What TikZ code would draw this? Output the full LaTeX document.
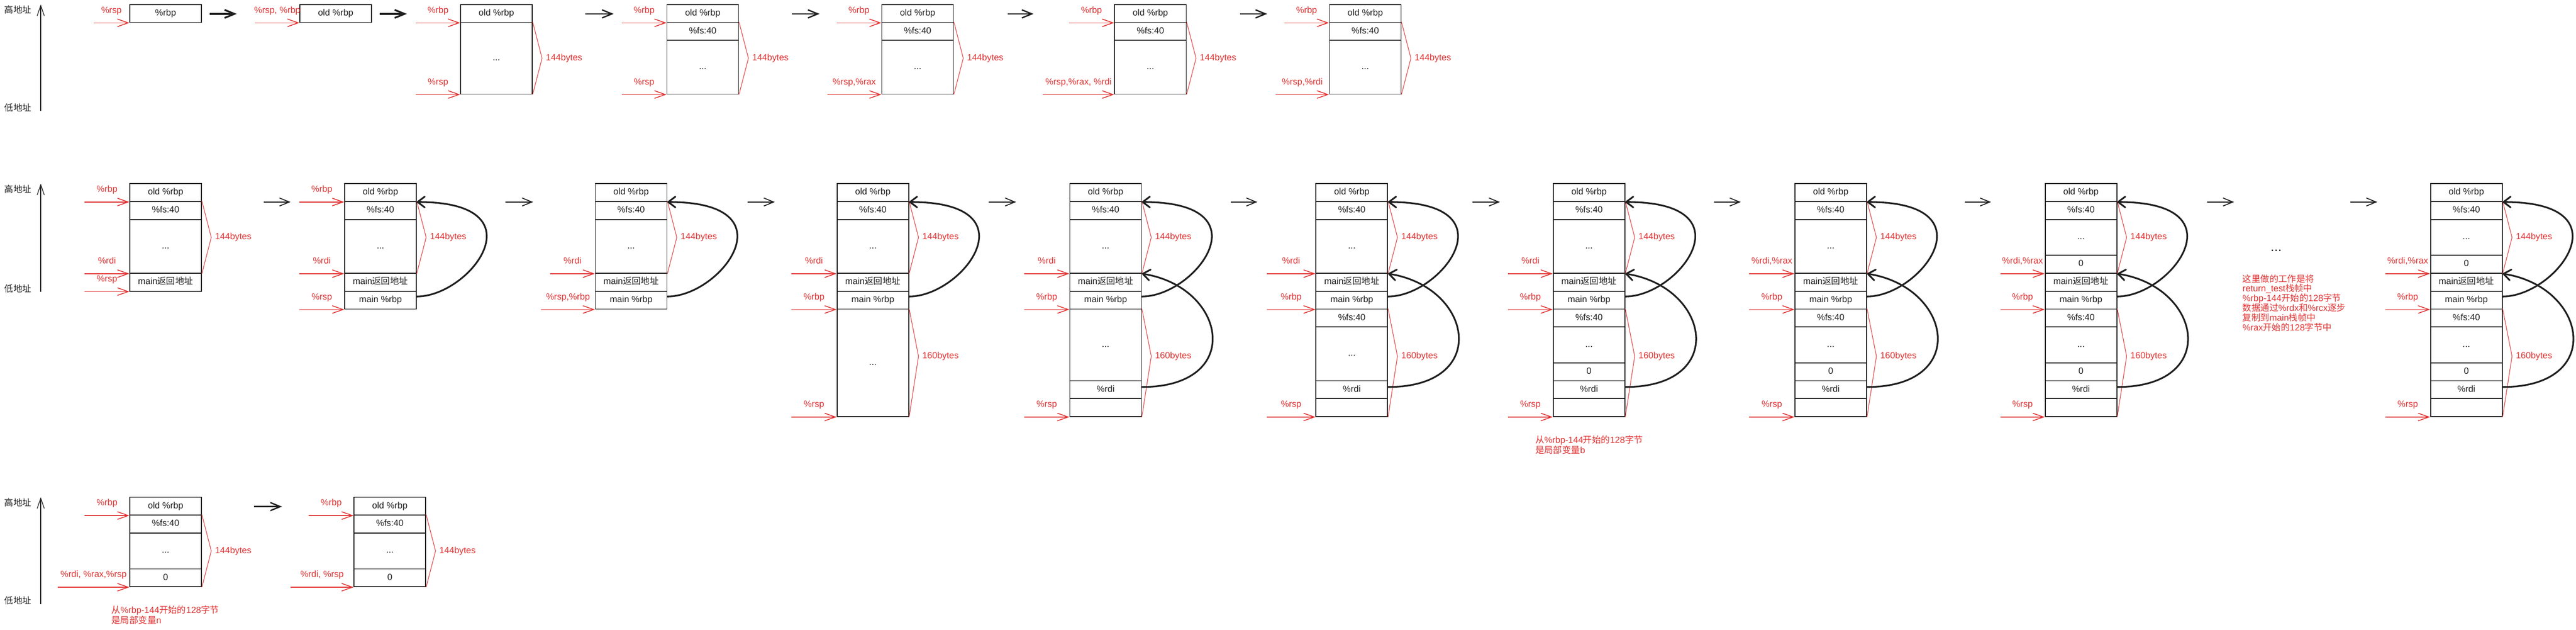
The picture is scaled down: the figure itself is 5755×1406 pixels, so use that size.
\documentclass[tikz,border=0pt]{standalone}
\usepackage{fontspec}
\setmainfont{Liberation Sans}
\newfontfamily\cjk{Noto Sans CJK SC}
\usetikzlibrary{arrows.meta,calc}
\definecolor{ink}{HTML}{1E1E1E}
\definecolor{pen}{HTML}{E03131}
\newcommand\zh[1]{{\cjk #1}}
\newcommand\skipcell{...}
% one stack frame: name, left edge, cells as top/bottom/text
\newcommand\stackcells[3]{%
  \foreach \ya/\yb/\txt [count=\i] in {#3}{%
    \pgfmathsetmacro\cellh{\yb-\ya}
    \node[cell, minimum height=\cellh pt] (#1-\i) at ({#2+80},{(\ya+\yb)/2}) {\txt};
  }}

\begin{document}
\begin{tikzpicture}[x=1pt, y=-1pt,
every node/.style={inner sep=0pt, font=\fontsize{20}{23}\selectfont},
cell/.style={draw=ink, line width=2pt, minimum width=160pt, text=ink, text height=14pt, text depth=4pt},
reg/.style={anchor=base, yshift=22pt, text=pen},
sizelbl/.style={anchor=west, xshift=8pt, text=pen},
note/.style={anchor=west, align=left, text=pen},
addr/.style={text=ink},
ptr/.style={draw=pen, line width=1.8pt, -{Straight Barb[length=24pt,width=17pt]}},
brace/.style={draw=pen, line width=1.2pt},
nextarr/.style={draw=ink, -{Straight Barb[length=22pt,width=18pt]}},
axis/.style={draw=ink, line width=1.5pt, -{Straight Barb[length=23pt,width=16pt]}},
loopback/.style={draw=ink, line width=3.8pt, line cap=round, -{Straight Barb[length=16pt,width=24pt,round]}}
]
\useasboundingbox (0,0) rectangle (5755,1406);

% address axes
\foreach \n/\ya/\yb in {1/10/248, 2/410/652, 3/1110/1349}{
  \node[addr] (hi\n) at (40,\ya+12) {\zh{高地址}};
  \node[addr] (lo\n) at (40,\yb-8) {\zh{低地址}};
  \coordinate (ax\n-a) at (91,\yb);
  \coordinate (ax\n-b) at (91,\ya);
  \draw[axis] (ax\n-a) -- (ax\n-b);
}

% first row
\stackcells{f1}{290}{10/50/\%rbp}
\stackcells{f2}{670}{10/50/old \%rbp}
\stackcells{f3}{1029}{10/50/old \%rbp, 50/210/\skipcell}
\stackcells{f4}{1490}{10/50/old \%rbp, 50/90/\%fs:40, 90/210/\skipcell}
\stackcells{f5}{1970}{10/50/old \%rbp, 50/90/\%fs:40, 90/210/\skipcell}
\stackcells{f6}{2490}{10/50/old \%rbp, 50/90/\%fs:40, 90/210/\skipcell}
\stackcells{f7}{2970}{10/50/old \%rbp, 50/90/\%fs:40, 90/210/\skipcell}

% second row
\stackcells{g1}{290}{410/450/old \%rbp, 450/490/\%fs:40, 490/610/\skipcell, 610/650/main\zh{返回地址}}
\stackcells{g2}{770}{410/450/old \%rbp, 450/490/\%fs:40, 490/610/\skipcell, 610/650/main\zh{返回地址}, 650/690/main \%rbp}
\stackcells{g3}{1330}{410/450/old \%rbp, 450/490/\%fs:40, 490/610/\skipcell, 610/650/main\zh{返回地址}, 650/690/main \%rbp}
\stackcells{g4}{1870}{410/450/old \%rbp, 450/490/\%fs:40, 490/610/\skipcell, 610/650/main\zh{返回地址}, 650/690/main \%rbp, 690/930/\skipcell}
\stackcells{g5}{2390}{410/450/old \%rbp, 450/490/\%fs:40, 490/610/\skipcell, 610/650/main\zh{返回地址}, 650/690/main \%rbp, 690/850/\skipcell, 850/890/\%rdi, 890/930/{}}
\stackcells{g6}{2940}{410/450/old \%rbp, 450/490/\%fs:40, 490/610/\skipcell, 610/650/main\zh{返回地址}, 650/690/main \%rbp, 690/730/\%fs:40, 730/850/\skipcell, 850/890/\%rdi, 890/930/{}}
\stackcells{g7}{3470}{410/450/old \%rbp, 450/490/\%fs:40, 490/610/\skipcell, 610/650/main\zh{返回地址}, 650/690/main \%rbp, 690/730/\%fs:40, 730/810/\skipcell, 810/850/0, 850/890/\%rdi, 890/930/{}}
\stackcells{g8}{4010}{410/450/old \%rbp, 450/490/\%fs:40, 490/610/\skipcell, 610/650/main\zh{返回地址}, 650/690/main \%rbp, 690/730/\%fs:40, 730/810/\skipcell, 810/850/0, 850/890/\%rdi, 890/930/{}}
\stackcells{g9}{4569}{410/450/old \%rbp, 450/490/\%fs:40, 490/570/\skipcell, 570/610/0, 610/650/main\zh{返回地址}, 650/690/main \%rbp, 690/730/\%fs:40, 730/810/\skipcell, 810/850/0, 850/890/\%rdi, 890/930/{}}
\stackcells{g10}{5430}{410/450/old \%rbp, 450/490/\%fs:40, 490/570/\skipcell, 570/610/0, 610/650/main\zh{返回地址}, 650/690/main \%rbp, 690/730/\%fs:40, 730/810/\skipcell, 810/850/0, 850/890/\%rdi, 890/930/{}}

% third row
\stackcells{h1}{290}{1110/1150/old \%rbp, 1150/1190/\%fs:40, 1190/1270/\skipcell, 1270/1310/0}
\stackcells{h2}{791}{1110/1150/old \%rbp, 1150/1190/\%fs:40, 1190/1270/\skipcell, 1270/1310/0}

% register pointers
\foreach \fr/\cl/\len/\lbl in {
    f1/1/80/\%rsp, f2/1/99/{\%rsp, \%rbp},
    f3/1/99/\%rbp, f3/2/99/\%rsp, f4/1/100/\%rbp, f4/3/100/\%rsp,
    f5/1/100/\%rbp, f5/3/121/{\%rsp,\%rax}, f6/1/101/\%rbp, f6/3/159/{\%rsp,\%rax, \%rdi},
    f7/1/100/\%rbp, f7/3/119/{\%rsp,\%rdi},
    g1/1/100/\%rbp, g1/3/100/\%rdi, g1/4/100/\%rsp,
    g2/1/100/\%rbp, g2/3/100/\%rdi, g2/5/100/\%rsp,
    g3/3/100/\%rdi, g3/5/120/{\%rsp,\%rbp},
    g4/3/101/\%rdi, g4/5/101/\%rbp, g4/6/101/\%rsp,
    g5/3/101/\%rdi, g5/5/101/\%rbp, g5/8/101/\%rsp,
    g6/3/109/\%rdi, g6/5/109/\%rbp, g6/9/109/\%rsp,
    g7/3/100/\%rdi, g7/5/100/\%rbp, g7/10/100/\%rsp,
    g8/3/101/{\%rdi,\%rax}, g8/5/101/\%rbp, g8/10/101/\%rsp,
    g9/4/99/{\%rdi,\%rax}, g9/6/99/\%rbp, g9/11/99/\%rsp,
    g10/4/100/{\%rdi,\%rax}, g10/6/100/\%rbp, g10/11/100/\%rsp,
    h1/1/100/\%rbp, h1/4/160/{\%rdi, \%rax,\%rsp},
    h2/1/100/\%rbp, h2/4/141/{\%rdi, \%rsp}%
  }{
  \coordinate (\fr-\cl-from) at ([xshift=-\len pt]\fr-\cl.south west);
  \draw[ptr] (\fr-\cl-from) -- node[reg]{\lbl} (\fr-\cl.south west);
}

% frame sizes
\foreach \fr/\ca/\cb/\tipf/\lbl in {
    f3/2/2/.5/144bytes, f4/2/3/.5/144bytes, f5/2/3/.5/144bytes, f6/2/3/.5/144bytes, f7/2/3/.5/144bytes,
    g1/2/3/.5/144bytes, g2/2/3/.5/144bytes, g3/2/3/.5/144bytes, g4/2/3/.5/144bytes,
    g5/2/3/.5/144bytes, g6/2/3/.5/144bytes, g7/2/3/.5/144bytes, g8/2/3/.5/144bytes,
    g9/2/4/.5/144bytes, g10/2/4/.5/144bytes,
    g4/6/6/.44/160bytes, g5/6/8/.44/160bytes, g6/6/9/.44/160bytes, g7/6/10/.44/160bytes,
    g8/6/10/.44/160bytes, g9/7/11/.44/160bytes, g10/7/11/.44/160bytes,
    h1/2/4/.5/144bytes, h2/2/4/.5/144bytes%
  }
  \draw[brace] (\fr-\ca.north east) -- ($(\fr-\ca.north east)!\tipf!(\fr-\cb.south east)+(21,0)$)
    node[sizelbl]{\lbl} -- (\fr-\cb.south east);

% saved %rbp links
\foreach \fr/\ca/\cb in {g2/5/1, g3/5/1, g4/5/1, g5/5/1, g6/5/1, g7/5/1, g8/5/1, g9/6/1, g10/6/1}
  \draw[loopback] ([yshift=8pt]\fr-\ca.east) .. controls +(120,0) and +(280,0) .. (\fr-\cb.south east);
% %rdi links
\foreach \fr/\ca/\cb in {g5/7/3, g6/8/3, g7/9/3, g8/9/3, g9/10/4, g10/10/4}
  \draw[loopback] ([yshift=6pt]\fr-\ca.east) .. controls +(230,0) and +(190,30) .. (\fr-\cb.south east);

% steps
\foreach \n/\xa/\xb/\y/\w in {1/469/529/31/4, 2/848/909/31/4, 3/1308/1371/31/3, 4/1769/1831/31/3,
    5/2251/2309/31/3, 6/2770/2831/31/3, 7/589/649/451/2, 8/1129/1191/451/2, 9/1670/1731/451/2,
    10/2209/2270/451/2, 11/2750/2809/451/2, 12/3290/3351/451/2, 13/3829/3889/451/2,
    14/4390/4448/451/2, 15/4931/4991/451/2, 16/5251/5311/451/2, 17/568/630/1131/3}{
  \coordinate (go\n-a) at (\xa,\y);
  \coordinate (go\n-b) at (\xb,\y);
  \draw[nextarr, line width=\w pt] (go\n-a) -- (go\n-b);
}

\node[text=ink, anchor=base, font=\fontsize{30}{30}\selectfont] (more) at (5085,561) {...};

\node[note] (noteb) at (3430,993.5) {\zh{从}\%rbp-144\zh{开始的}128\zh{字节}\\\zh{是局部变量}b};
\node[note] (noten) at (249,1373.5) {\zh{从}\%rbp-144\zh{开始的}128\zh{字节}\\\zh{是局部变量}n};
\node[note, font=\fontsize{20}{21.8}\selectfont] (notecopy) at (5010,676.5)
  {\zh{这里做的工作是将}\\return\_test\zh{栈帧中}\\\%rbp-144\zh{开始的}128\zh{字节}\\
   \zh{数据通过}\%rdx\zh{和}\%rcx\zh{逐步}\\\zh{复制到}main\zh{栈帧中}\\\%rax\zh{开始的}128\zh{字节中}};

\end{tikzpicture}
\end{document}
